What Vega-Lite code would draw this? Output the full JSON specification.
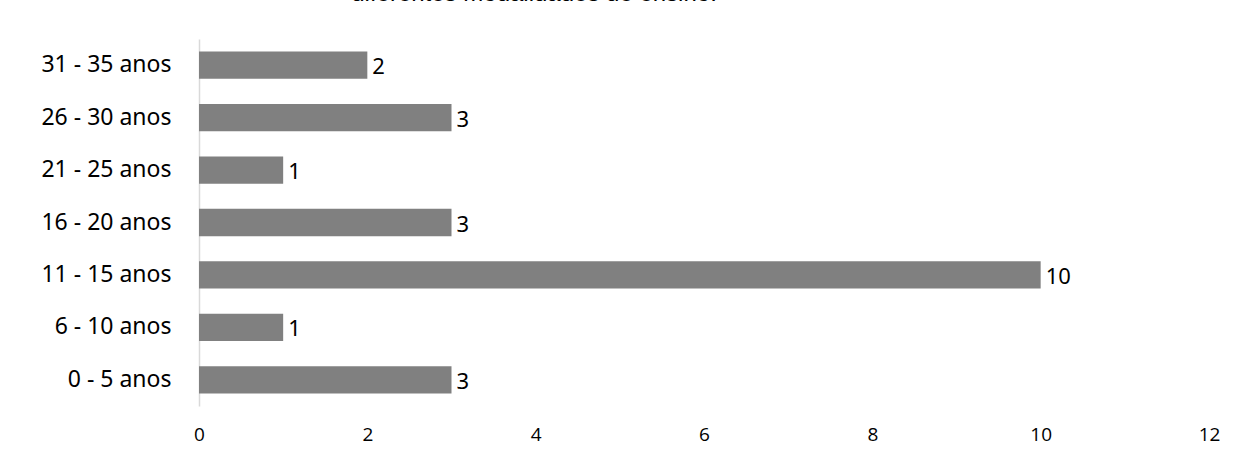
{
  "$schema": "https://vega.github.io/schema/vega-lite/v6.json",
  "autosize": {"type": "none"},
  "padding": {"left": 199, "top": 39, "right": 30, "bottom": 55},
  "width": 1010,
  "height": 367,
  "background": "white",
  "title": {
    "text": "diferentes modalidades de ensino.",
    "fontSize": 24,
    "font": "Liberation Sans",
    "fontWeight": "normal",
    "color": "#000000",
    "anchor": "middle",
    "dx": -170,
    "offset": 33
  },
  "data": {
    "values": [
      {"faixa": "31 - 35 anos", "n": 2},
      {"faixa": "26 - 30 anos", "n": 3},
      {"faixa": "21 - 25 anos", "n": 1},
      {"faixa": "16 - 20 anos", "n": 3},
      {"faixa": "11 - 15 anos", "n": 10},
      {"faixa": "6 - 10 anos", "n": 1},
      {"faixa": "0 - 5 anos", "n": 3}
    ]
  },
  "config": {"view": {"stroke": null}},
  "encoding": {
    "y": {
      "field": "faixa",
      "type": "nominal",
      "sort": null,
      "scale": {"paddingInner": 0.48, "paddingOuter": 0.24},
      "axis": {
        "title": null,
        "ticks": false,
        "domainColor": "#d9d9d9",
        "domainWidth": 1.5,
        "labelFont": "Noto Sans",
        "labelFontSize": 23,
        "labelColor": "#000000",
        "labelPadding": 28
      }
    },
    "x": {
      "field": "n",
      "type": "quantitative",
      "scale": {"domain": [0, 12], "nice": false},
      "axis": {
        "title": null,
        "values": [0, 2, 4, 6, 8, 10, 12],
        "grid": false,
        "domain": false,
        "ticks": false,
        "labelFont": "Open Sans",
        "labelFontSize": 19,
        "labelColor": "#000000",
        "labelPadding": 19,
        "labelFlush": false
      }
    }
  },
  "layer": [
    {"mark": {"type": "bar", "color": "#808080"}},
    {
      "mark": {
        "type": "text",
        "align": "left",
        "dx": 5,
        "dy": 2,
        "font": "Noto Sans",
        "fontSize": 22,
        "color": "#000000"
      },
      "encoding": {"text": {"field": "n", "type": "quantitative"}}
    }
  ]
}
